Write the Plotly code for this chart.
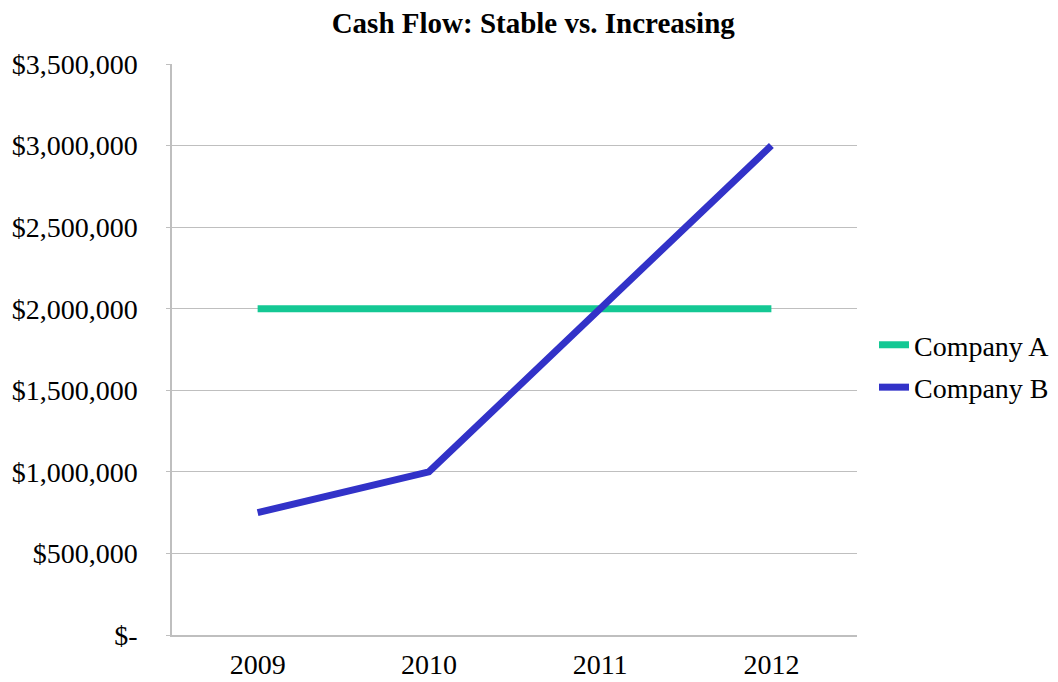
import plotly.graph_objects as go

years = ["2009", "2010", "2011", "2012"]
company_a = [2000000, 2000000, 2000000, 2000000]
company_b = [750000, 1000000, 2000000, 3000000]
y_tickvals = [0, 500000, 1000000, 1500000, 2000000, 2500000, 3000000, 3500000]
y_ticktext = ["$-", "$500,000", "$1,000,000", "$1,500,000", "$2,000,000",
              "$2,500,000", "$3,000,000", "$3,500,000"]

FONT = "Liberation Serif, Times New Roman, serif"

fig = go.Figure()
fig.add_trace(go.Scatter(x=years, y=company_a, name="Company A", mode="lines",
                         legendgroup="a",
                         line=dict(color="#14c894", width=7)))
fig.add_trace(go.Scatter(x=years, y=company_b, name="Company B", mode="lines",
                         legendgroup="b",
                         line=dict(color="#3232c8", width=7)))

fig.update_layout(
    width=1058, height=682,
    margin=dict(l=172, r=201, t=64, b=47, autoexpand=False),
    paper_bgcolor="white", plot_bgcolor="white",
    font=dict(family=FONT, size=28, color="black"),
    title=dict(text="<b>Cash Flow: Stable vs. Increasing</b>", x=0.504, xanchor="center",
               y=0.967, yanchor="middle", font=dict(family=FONT, size=29, color="black")),
    showlegend=True,
    legend=dict(x=1.0248, xanchor="left", y=0.471, yanchor="middle",
                font=dict(family=FONT, size=28, color="black"),
                bgcolor="rgba(0,0,0,0)", itemwidth=30,
                traceorder="grouped", tracegroupgap=3),
    xaxis=dict(type="category", range=[-0.5, 3.5], showgrid=False,
               showline=True, linecolor="#bfbfbf", linewidth=1.5,
               ticks="", tickfont=dict(family=FONT, size=28), ticklabelstandoff=4,
               automargin=False),
    yaxis=dict(range=[0, 3500000], tickvals=y_tickvals, ticktext=y_ticktext,
               showgrid=True, gridcolor="#bfbfbf", gridwidth=1,
               showline=True, linecolor="#bfbfbf", linewidth=1.5,
               ticks="outside", ticklen=4, tickcolor="#bfbfbf",
               tickfont=dict(family=FONT, size=28), ticklabelstandoff=23,
               zeroline=False, automargin=False),
)

fig.write_html("out.html")
